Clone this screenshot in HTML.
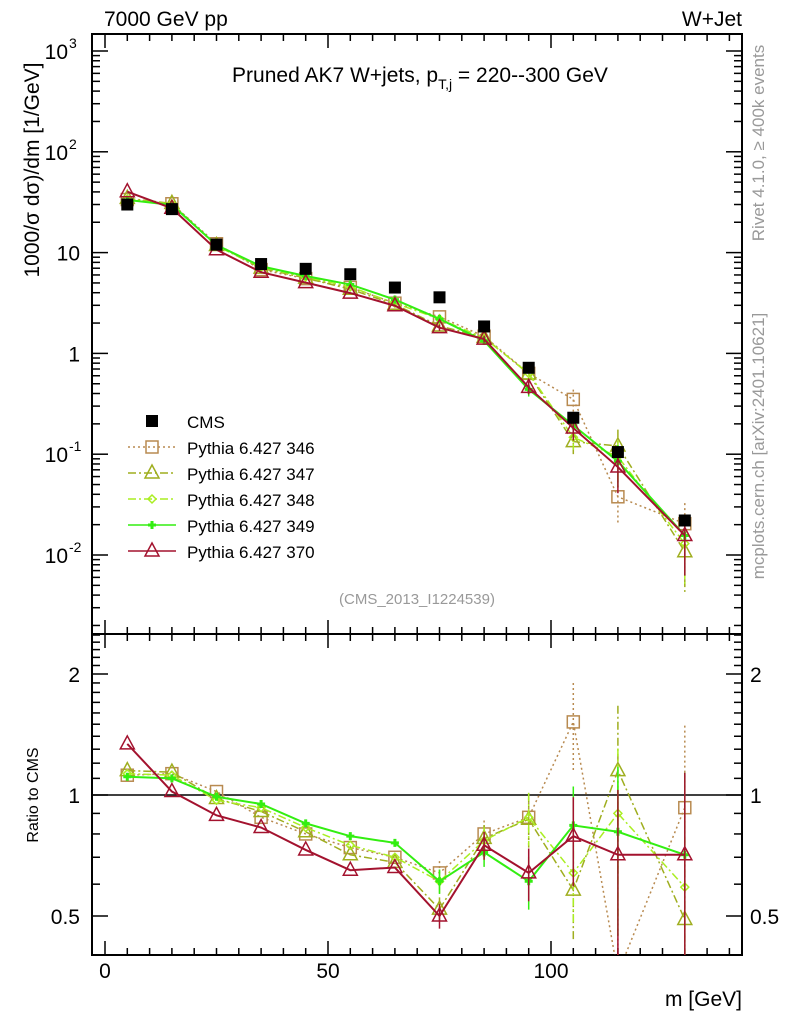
<!DOCTYPE html>
<html><head><meta charset="utf-8"><style>
html,body{margin:0;padding:0;background:#fff;width:786px;height:1024px;overflow:hidden;}
svg{display:block;font-family:"Liberation Sans",sans-serif;overflow:hidden;}
</style></head><body>
<svg id="c" width="786" height="1024" viewBox="0 0 786 1024"></svg>
<script>
const bins=[5,15,25,35,45,55,65,75,85,95,105,115,130];
const cmsVals=[30,27,12,7.7,6.9,6.1,4.5,3.6,1.85,0.72,0.23,0.105,0.022];
const r346=[1.12,1.13,1.02,0.88,0.80,0.74,0.70,0.64,0.80,0.88,1.52,0.36,0.93];
const r347=[1.15,1.14,0.98,0.91,0.81,0.71,0.68,0.52,0.78,0.87,0.58,1.15,0.49];
const r348=[1.13,1.12,0.97,0.93,0.83,0.75,0.70,0.61,0.77,0.88,0.64,0.90,0.59];
const r349=[1.11,1.10,0.99,0.95,0.85,0.79,0.76,0.61,0.72,0.61,0.84,0.81,0.71];
const r370=[1.34,1.02,0.89,0.83,0.73,0.65,0.66,0.50,0.75,0.64,0.79,0.71,0.71];
const relErr=[0.02,0.02,0.03,0.03,0.04,0.04,0.05,0.07,0.08,0.15,0.25,0.45,0.6];
const xTicks=[0,50,100];
const yExp=[-2,-1,0,1,2,3];
const rTicks=[0.5,1,2];

const L=92,R=742,T=34,MB=634,RB=955;
const X=v=>105+(v)*4.46;
const Y=v=>51+(3-Math.log10(v))*100.8;
const RY=v=>795-Math.log2(v)*121;
const svg=document.getElementById('c');
const NS='http://www.w3.org/2000/svg';
function el(t,a,p){const e=document.createElementNS(NS,t);for(const k in a)e.setAttribute(k,a[k]);(p||svg).appendChild(e);return e;}
function txt(s,a,p){const e=el('text',a,p);e.textContent=s;return e;}

const defs=el('defs',{});
const c1=el('clipPath',{id:'cm'},defs);el('rect',{x:L,y:T,width:R-L,height:MB-T},c1);
const c2=el('clipPath',{id:'cr'},defs);el('rect',{x:L,y:MB,width:R-L,height:RB-MB},c2);

let f=el('rect',{x:L,y:T,width:R-L,height:MB-T,fill:'none',stroke:'#000','stroke-width':2});

f=el('rect',{x:L,y:MB,width:R-L,height:RB-MB,fill:'none',stroke:'#000','stroke-width':2});


const tg=el('g',{stroke:'#000','stroke-width':1.5});

for(let v=0;v<=140;v+=5){const x=X(v);const big=v%50===0;const l=big?14:7;
 for(const [y,d] of [[T,1],[MB,-1],[MB,1],[RB,-1]]) el('line',{x1:x,x2:x,y1:y,y2:y+d*l},tg);}
xTicks.forEach(v=>{const t=txt(v,{x:X(v),y:978,'font-size':21,'text-anchor':'middle'});
 });

const yg=el('g',{stroke:'#000','stroke-width':1.5});

for(let e=-3;e<=3;e++){for(let m=1;m<10;m++){const v=m*Math.pow(10,e);const y=Y(v);if(y<T||y>MB)continue;const l=m===1?16:8;
 el('line',{x1:L,x2:L+l,y1:y,y2:y},yg);el('line',{x1:R,x2:R-l,y1:y,y2:y},yg);}}
yExp.forEach(e=>{const y=Y(Math.pow(10,e));let t;
 if(e===0||e===1){t=txt(e===0?'1':'10',{x:80,y:y+8,'font-size':21,'text-anchor':'end'});}
 else{t=txt('10',{x:68,y:y+8,'font-size':21,'text-anchor':'end'});const s=txt(e,{x:69,y:y-3,'font-size':14},svg);
  }
 });

const rg=el('g',{stroke:'#000','stroke-width':1.5});

for(const v of [0.4,0.5,0.6,0.7,0.8,0.9,1,1.1,1.2,1.3,1.4,1.5,1.6,1.7,1.8,1.9,2,2.1,2.2,2.3,2.4,2.5]){const y=RY(v);if(y<MB||y>RB)continue;
 const l=(v===0.5||v===1||v===2)?16:8;el('line',{x1:L,x2:L+l,y1:y,y2:y},rg);el('line',{x1:R,x2:R-l,y1:y,y2:y},rg);}
rTicks.forEach(v=>{let t=txt(v,{x:80,y:RY(v)+8,'font-size':21,'text-anchor':'end'});
 
 t=txt(v,{x:750,y:RY(v)+8,'font-size':21});
 });
let ln=el('line',{x1:L,x2:R,y1:RY(1),y2:RY(1),stroke:'#000','stroke-width':1.5});


const T1=[['7000 GeV pp',104,26,21,'start','top-left-label'],['W+Jet',742,26,21,'end','top-right-label'],
 ['m [GeV]',742,1006,21,'end','x-axis-title']];
T1.forEach(a=>{const t=txt(a[0],{x:a[1],y:a[2],'font-size':a[3],'text-anchor':a[4]});});
let tt=el('text',{x:420,y:82,'font-size':21,'text-anchor':'middle'});
tt.innerHTML='Pruned AK7 W+jets, p<tspan font-size="14" dy="7">T,j</tspan><tspan dy="-7"> = 220--300 GeV</tspan>';

tt=txt('(CMS_2013_I1224539)',{x:417,y:604,'font-size':15,fill:'#999','text-anchor':'middle'});

tt=txt('1000/σ  dσ)/dm [1/GeV]',{x:0,y:0,'font-size':21,'text-anchor':'middle',transform:'translate(39,170) rotate(-90)'});

tt=txt('Ratio to CMS',{x:0,y:0,'font-size':16,'text-anchor':'middle',transform:'translate(38,795) rotate(-90)'});

tt=txt('Rivet 4.1.0, ≥ 400k events',{x:0,y:0,'font-size':17,fill:'#999','text-anchor':'middle',transform:'translate(764,143) rotate(-90)'});

tt=txt('mcplots.cern.ch [arXiv:2401.10621]',{x:0,y:0,'font-size':17,fill:'#999','text-anchor':'middle',transform:'translate(764,446) rotate(-90)'});


const series=[
 {name:'346',r:r346,c:'#b88a50',dash:'2,3',m:'sq'},
 {name:'347',r:r347,c:'#9fae1f',dash:'8,3,2,3',m:'tri'},
 {name:'348',r:r348,c:'#aaee22',dash:'8,3,2,3',m:'dia'},
 {name:'349',r:r349,c:'#33ee11',dash:'',m:'cross'},
 {name:'370',r:r370,c:'#a3122e',dash:'',m:'tri'}];
function marker(g,m,x,y,c){
 if(m==='sq')el('rect',{x:x-6,y:y-6,width:12,height:12,fill:'none',stroke:c,'stroke-width':1.5},g);
 else if(m==='tri')el('polygon',{points:`${x},${y-8} ${x-7},${y+5} ${x+7},${y+5}`,fill:'none',stroke:c,'stroke-width':1.5},g);
 else if(m==='dia')el('polygon',{points:`${x},${y-4} ${x-4},${y} ${x},${y+4} ${x+4},${y}`,fill:'none',stroke:c,'stroke-width':1.5},g);
 else if(m==='cross')el('path',{d:`M${x-4},${y}h8M${x},${y-4}v8`,stroke:c,'stroke-width':3},g);
}
series.forEach((s)=>{
 for(const [yf,clip,valf] of [[Y,'cm',i=>cmsVals[i]*s.r[i]],[RY,'cr',i=>s.r[i]]]){
  const g=el('g',{'clip-path':`url(#${clip})`});
  
  
  const pts=bins.map((b,i)=>X(b)+','+yf(valf(i))).join(' ');
  el('polyline',{points:pts,fill:'none',stroke:s.c,'stroke-width':s.dash?1.5:2,'stroke-dasharray':s.dash},g);
  bins.forEach((b,i)=>{const v=valf(i),e=relErr[i];if(e>0.06){
   el('line',{x1:X(b),x2:X(b),y1:yf(v*(1+e)),y2:yf(Math.max(v*(1-e),1e-6)),stroke:s.c,'stroke-width':1.5,'stroke-dasharray':s.dash},g);}
   marker(g,s.m,X(b),yf(v),s.c);});
 }
});
const cg=el('g',{'clip-path':'url(#cm)'});

bins.forEach((b,i)=>{const r=el('rect',{x:X(b)-6,y:Y(cmsVals[i])-6,width:12,height:12,fill:'#000'},cg);
 });

const lg=el('g',{});

const ly=[421,447,473,499,525,551];
let e=el('g',{},lg);
el('rect',{x:146,y:ly[0]-6,width:12,height:12,fill:'#000'},e);
txt('CMS',{x:187,y:ly[0]+7,'font-size':17},e);
series.forEach((s,i)=>{const g=el('g',{},lg);
 
 el('line',{x1:128,x2:176,y1:ly[i+1],y2:ly[i+1],stroke:s.c,'stroke-width':1.5,'stroke-dasharray':s.dash},g);
 marker(g,s.m,152,ly[i+1],s.c);
 txt('Pythia 6.427 '+s.name,{x:187,y:ly[i+1]+7,'font-size':17},g);});
</script>
</body></html>
